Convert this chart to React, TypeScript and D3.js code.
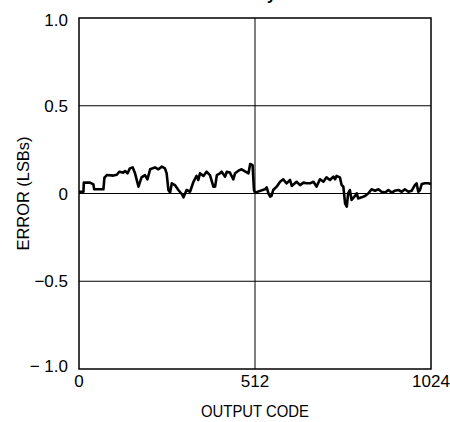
import React, { useEffect, useRef } from "react";
import * as d3 from "d3";

// output code vs. error (LSBs)
const codes = [
  0, 13, 14, 32, 42, 44, 71, 74, 81, 100, 110, 117, 129, 134, 141, 148, 156, 163,
  173, 182, 192, 199, 207, 221, 231, 241, 250, 255, 260, 265, 270, 279, 289, 299,
  304, 313, 323, 333, 342, 347, 352, 362, 371, 381, 391, 396, 401, 410, 415, 425,
  430, 439, 449, 454, 464, 473, 483, 493, 498, 505, 509, 512, 541, 546, 551, 556,
  560, 565, 575, 585, 594, 604, 614, 619, 628, 633, 643, 653, 662, 672, 682, 691,
  701, 711, 720, 730, 740, 745, 749, 759, 764, 769, 774, 779, 783, 788, 793, 803,
  808, 812, 822, 832, 842, 851, 861, 871, 880, 890, 900, 910, 919, 929, 939, 948,
  958, 968, 977, 982, 987, 992, 997, 1006, 1016, 1024,
];
const errors = [
  0.01, 0.01, 0.062, 0.062, 0.052, 0.024, 0.024, 0.09, 0.105, 0.102, 0.107, 0.124,
  0.119, 0.128, 0.115, 0.143, 0.149, 0.115, 0.039, 0.092, 0.105, 0.081, 0.138,
  0.149, 0.138, 0.153, 0.143, 0.115, 0.02, 0.005, 0.058, 0.048, 0.02, -0.003,
  -0.022, 0.02, 0.01, 0.067, 0.1, 0.077, 0.115, 0.1, 0.124, 0.105, 0.039, 0.039,
  0.105, 0.115, 0.124, 0.096, 0.124, 0.119, 0.081, 0.115, 0.13, 0.138, 0.126,
  0.115, 0.168, 0.162, 0.02, 0.005, 0.024, 0.035, 0.001, -0.018, -0.014, 0.02,
  0.039, 0.067, 0.081, 0.058, 0.077, 0.043, 0.058, 0.067, 0.048, 0.062, 0.058,
  0.058, 0.067, 0.039, 0.081, 0.067, 0.092, 0.077, 0.096, 0.081, 0.1, 0.092,
  0.048, 0.039, -0.056, -0.075, 0.001, 0.02, -0.037, -0.014, 0.001, -0.028,
  -0.022, -0.014, 0.001, 0.024, 0.016, 0.024, 0.01, 0.005, 0.02, 0.005, 0.016,
  0.02, 0.01, 0.024, 0.01, 0.016, 0.048, 0.058, 0.01, 0.02, 0.054, 0.058, 0.058,
  0.054,
];

const xTicks = [0, 512, 1024];
const yTicks = [-1, -0.5, 0, 0.5, 1];
const yGrid = [-0.5, 0, 0.5];
const xGrid = [512];

const App = () => {
  const ref = useRef<SVGSVGElement>(null);

  useEffect(() => {
    const svg = d3.select(ref.current);
    svg.selectAll("*").remove();

    const margin = { top: 18, right: 19, bottom: 53, left: 79 };
    const width = 450 - margin.left - margin.right;
    const height = 422 - margin.top - margin.bottom;
    const font = "'Liberation Sans', Arial, sans-serif";

    const x = d3.scaleLinear().domain([0, 1024]).range([0, width]);
    const y = d3.scaleLinear().domain([-1, 1]).range([height, 0]);

    // title, mostly off the top of the picture (as in the original)
    svg.append("text")
      .attr("x", 276)
      .attr("y", -0.5)
      .attr("text-anchor", "end")
      .style("font-family", font)
      .style("font-weight", "bold")
      .style("font-size", "16px")
      .text("Differential Nonlinearity");

    const g = svg.append("g").attr("transform", `translate(${margin.left},${margin.top})`);

    g.selectAll(".hgrid")
      .data(yGrid)
      .enter().append("line")
      .attr("x1", 0).attr("x2", width)
      .attr("y1", d => y(d)).attr("y2", d => y(d))
      .attr("stroke", "#000").attr("stroke-width", 1);

    g.selectAll(".vgrid")
      .data(xGrid)
      .enter().append("line")
      .attr("y1", 0).attr("y2", height)
      .attr("x1", d => x(d)).attr("x2", d => x(d))
      .attr("stroke", "#000").attr("stroke-width", 1);

    const pts = codes.map((c, i) => [c, errors[i]] as [number, number]);
    const line = d3.line<[number, number]>().x(d => x(d[0])).y(d => y(d[1]));
    g.append("path")
      .attr("d", line(pts))
      .attr("fill", "none")
      .attr("stroke", "#000")
      .attr("stroke-width", 2.6)
      .attr("stroke-linejoin", "round");

    g.append("rect")
      .attr("width", width).attr("height", height)
      .attr("fill", "none").attr("stroke", "#000").attr("stroke-width", 1.5);

    const fmt = (d: number) => (d === 0 ? "0" : (d < 0 ? "\u2212" : "") + Math.abs(d).toFixed(1));
    g.selectAll(".ylab")
      .data(yTicks)
      .enter().append("text")
      .attr("x", -11)
      .attr("y", d => y(d) + (d === 1 ? 8 : d === -1 ? 3 : 6))
      .attr("text-anchor", "end")
      .style("font-family", font)
      .style("font-size", "17px")
      .text(d => (d === -1 ? "\u2212 1.0" : fmt(d)));

    g.selectAll(".xlab")
      .data(xTicks)
      .enter().append("text")
      .attr("x", d => x(d))
      .attr("y", height + 18)
      .attr("text-anchor", "middle")
      .style("font-family", font)
      .style("font-size", "17px")
      .text(d => String(d));

    g.append("text")
      .attr("x", width / 2)
      .attr("y", height + 48)
      .attr("text-anchor", "middle")
      .attr("textLength", 108)
      .attr("lengthAdjust", "spacingAndGlyphs")
      .style("font-family", font)
      .style("font-size", "17px")
      .text("OUTPUT CODE");

    g.append("text")
      .attr("transform", `translate(${-50},${height / 2}) rotate(-90)`)
      .attr("text-anchor", "middle")
      .attr("textLength", 114)
      .attr("lengthAdjust", "spacingAndGlyphs")
      .style("font-family", font)
      .style("font-size", "17px")
      .text("ERROR (LSBs)");
  }, []);

  return (
    <div style={{ position: "fixed", left: 0, top: 0 }}>
      <svg ref={ref} width={450} height={422} style={{ display: "block", background: "#fff" }} />
    </div>
  );
};

export default App;
